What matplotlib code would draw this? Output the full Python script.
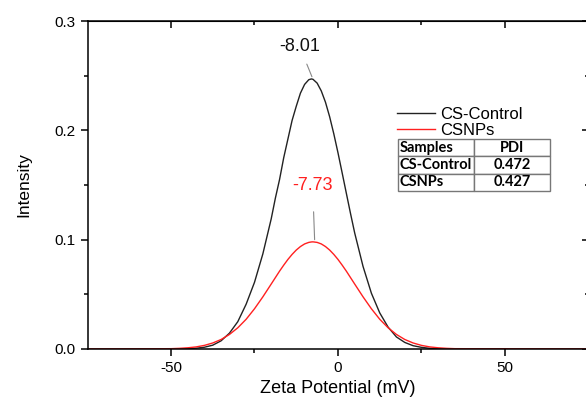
import numpy as np
import matplotlib
matplotlib.use("Agg")
import matplotlib.pyplot as plt
from matplotlib.lines import Line2D

plt.rcParams['font.family'] = ['Liberation Sans', 'DejaVu Sans']
plt.rcParams['axes.unicode_minus'] = False

# zeta potential (mV) sample points
zeta = [-75, -50, -47.5, -45, -42.5, -40, -37.5, -35, -32.5, -30, -27.5, -25, -22.5,
        -20, -18.75, -17.5, -16.25, -15, -13.75, -12.5, -11.25, -10, -8.75, -8, -7.5,
        -6.25, -5, -3.75, -2.5, -1.25, 0, 1.25, 2.5, 3.75, 5, 7.5, 10, 12.5,
        15, 17.5, 20, 22.5, 25, 27.5, 30, 32.5, 35, 75]

# intensities
cs_control = [0, 0.0000, 0.0001, 0.0003, 0.0007, 0.0016, 0.0035, 0.0075, 0.0145, 0.025,
              0.041, 0.061, 0.087, 0.119, 0.138, 0.155, 0.175, 0.192, 0.209, 0.222,
              0.234, 0.242, 0.2463, 0.247, 0.2467, 0.2432, 0.236, 0.2257, 0.2124,
              0.1967, 0.1794, 0.161, 0.1424, 0.1239, 0.1061, 0.0755, 0.051, 0.033,
              0.020, 0.011, 0.006, 0.003, 0.0015, 0.0006, 0.0002, 0.0001, 0, 0]
csnps = [0, 0.0003, 0.0006, 0.0011, 0.0019, 0.0033, 0.0055, 0.0087, 0.0133, 0.0194,
         0.0272, 0.0368, 0.0477, 0.0594, 0.0653, 0.0712, 0.0767, 0.0819, 0.0865,
         0.0905, 0.0937, 0.0961, 0.0975, 0.0979, 0.098, 0.0975, 0.0961, 0.0937,
         0.0905, 0.0865, 0.0819, 0.0767, 0.0712, 0.0653, 0.0594, 0.0477, 0.0368,
         0.0272, 0.0194, 0.0133, 0.0087, 0.0055, 0.0033, 0.0019, 0.0011, 0.0006,
         0.0003, 0]

series_names = ["CS-Control", "CSNPs"]
peak_labels = ["-8.01", "-7.73"]
table_rows = [["Samples", "PDI"], ["CS-Control", "0.472"], ["CSNPs", "0.427"]]

fig = plt.figure(figsize=(5.86, 4.0), dpi=100)
ax = fig.add_axes([87.5 / 586, 1 - 349 / 400, 501 / 586, 328 / 400])

ax.plot(zeta, cs_control, color='#222222', lw=1.0)
ax.plot(zeta, csnps, color='#ff2020', lw=1.0)

ax.set_xlim(-75, 75)
ax.set_ylim(0, 0.3)
ax.set_xticks([-50, 0, 50])
ax.set_xticks([-25, 25], minor=True)
ax.set_yticks([0.0, 0.1, 0.2, 0.3])
ax.set_yticks([0.05, 0.15, 0.25], minor=True)
ax.tick_params(which='major', direction='out', length=5, width=1.1, labelsize=11)
ax.tick_params(which='minor', direction='out', length=3, width=1.1)
for s in ax.spines.values():
    s.set_linewidth(1.1)

# inward ticks on top and right
top = ax.secondary_xaxis('top')
top.set_xticks([-50, 0, 50])
top.set_xticks([-25, 25], minor=True)
top.tick_params(which='both', direction='in', labeltop=False)
top.tick_params(which='major', length=5, width=1.1)
top.tick_params(which='minor', length=3, width=1.1)
right = ax.secondary_yaxis('right')
right.set_yticks([0.0, 0.1, 0.2, 0.3])
right.set_yticks([0.05, 0.15, 0.25], minor=True)
right.tick_params(which='both', direction='in', labelright=False)
right.tick_params(which='major', length=5, width=1.1)
right.tick_params(which='minor', length=3, width=1.1)

ax.set_xlabel("Zeta Potential (mV)", fontsize=13, labelpad=4)
ax.set_ylabel("Intensity", fontsize=12.5, labelpad=17)

# peak annotations
ax.annotate(peak_labels[0], xy=(-7.8, 0.249), xytext=(-11.5, 0.269),
            fontsize=13, ha='center', va='bottom', color='#111111',
            arrowprops=dict(arrowstyle='-', color='#888888', lw=0.8,
                            shrinkA=5, shrinkB=0))
ax.annotate(peak_labels[1], xy=(-7.0, 0.100), xytext=(-7.6, 0.142),
            fontsize=13, ha='center', va='bottom', color='#ff2020',
            arrowprops=dict(arrowstyle='-', color='#888888', lw=0.8,
                            shrinkA=11, shrinkB=0))

handles = [Line2D([], [], color='#222222', lw=1.0), Line2D([], [], color='#ff2020', lw=1.0)]
ax.legend(handles, series_names, loc='upper left', bbox_to_anchor=(0.618, 0.739),
          frameon=False, fontsize=12, handlelength=2.3, handletextpad=0.3,
          labelspacing=0.08, borderpad=0, borderaxespad=0)

tbl = ax.table(cellText=table_rows, bbox=[0.62, 0.482, 0.303, 0.158], cellLoc='center')
tbl.auto_set_font_size(False)
for (r, c), cell in tbl.get_celld().items():
    cell.set_edgecolor('#777777')
    cell.set_linewidth(1.0)
    cell.get_text().set_fontsize(10.5)
    cell.get_text().set_fontweight('bold')
    cell.get_text().set_fontfamily('Lato')
    if c == 0:
        cell.get_text().set_ha('left')
        cell.PAD = 0.02

fig.savefig("out.png", dpi=100)
